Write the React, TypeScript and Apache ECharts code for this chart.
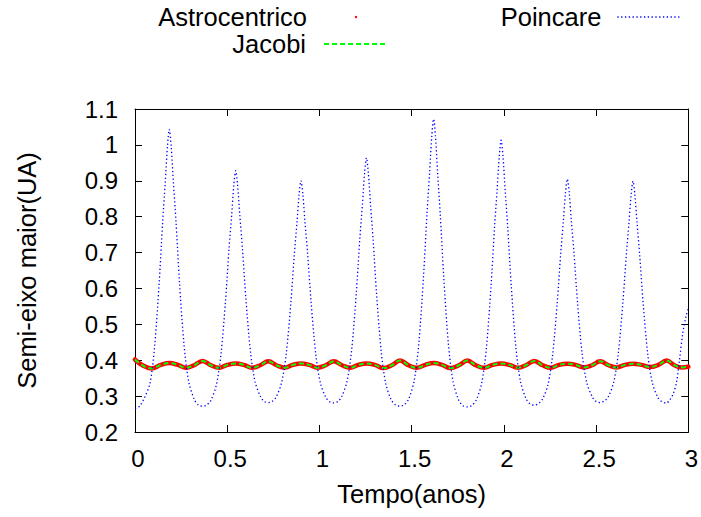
import React, { useEffect, useRef } from "react";
import * as echarts from "echarts";

const FONT = "'Liberation Sans', Arial, Helvetica, sans-serif";

const seriesNames = ["Astrocentrico", "Jacobi", "Poincare"];
const xTickValues = { min: 0, max: 3, step: 0.5 };
const yTickValues = { min: 0.2, max: 1.1, step: 0.1 };

// Astrocentrico (time in years, semi-major axis in AU)
const astroData: [number, number][] = [
  [0.000, 0.402], [0.040, 0.386], [0.089, 0.377], [0.140, 0.387], [0.186, 0.392], [0.232, 0.387], [0.276, 0.379], [0.321, 0.386], [0.366, 0.398],
  [0.411, 0.386], [0.456, 0.379], [0.501, 0.387], [0.546, 0.391], [0.590, 0.387], [0.634, 0.379], [0.679, 0.386], [0.723, 0.397],
  [0.767, 0.386], [0.811, 0.379], [0.856, 0.387], [0.900, 0.391], [0.945, 0.387], [0.989, 0.379], [1.034, 0.386], [1.078, 0.397],
  [1.122, 0.386], [1.166, 0.379], [1.211, 0.387], [1.255, 0.391], [1.301, 0.387], [1.346, 0.378], [1.392, 0.386], [1.437, 0.399],
  [1.483, 0.386], [1.528, 0.379], [1.574, 0.387], [1.619, 0.392], [1.665, 0.387], [1.710, 0.378], [1.756, 0.386], [1.802, 0.399],
  [1.848, 0.386], [1.893, 0.379], [1.939, 0.387], [1.985, 0.391], [2.030, 0.387], [2.075, 0.379], [2.120, 0.386], [2.165, 0.398],
  [2.210, 0.386], [2.254, 0.379], [2.299, 0.387], [2.344, 0.390], [2.389, 0.387], [2.433, 0.380], [2.478, 0.386], [2.522, 0.397],
  [2.567, 0.386], [2.611, 0.380], [2.656, 0.387], [2.700, 0.390], [2.746, 0.387], [2.791, 0.381], [2.837, 0.387], [2.882, 0.399],
  [2.925, 0.386], [2.965, 0.380], [3.000, 0.382],
];

// Jacobi (overlaps Astrocentrico in the picture)
const jacobiData: [number, number][] = [
  [0.000, 0.402], [0.040, 0.386], [0.089, 0.377], [0.140, 0.387], [0.186, 0.392], [0.232, 0.387], [0.276, 0.379], [0.321, 0.386], [0.366, 0.398],
  [0.411, 0.386], [0.456, 0.379], [0.501, 0.387], [0.546, 0.391], [0.590, 0.387], [0.634, 0.379], [0.679, 0.386], [0.723, 0.397],
  [0.767, 0.386], [0.811, 0.379], [0.856, 0.387], [0.900, 0.391], [0.945, 0.387], [0.989, 0.379], [1.034, 0.386], [1.078, 0.397],
  [1.122, 0.386], [1.166, 0.379], [1.211, 0.387], [1.255, 0.391], [1.301, 0.387], [1.346, 0.378], [1.392, 0.386], [1.437, 0.399],
  [1.483, 0.386], [1.528, 0.379], [1.574, 0.387], [1.619, 0.392], [1.665, 0.387], [1.710, 0.378], [1.756, 0.386], [1.802, 0.399],
  [1.848, 0.386], [1.893, 0.379], [1.939, 0.387], [1.985, 0.391], [2.030, 0.387], [2.075, 0.379], [2.120, 0.386], [2.165, 0.398],
  [2.210, 0.386], [2.254, 0.379], [2.299, 0.387], [2.344, 0.390], [2.389, 0.387], [2.433, 0.380], [2.478, 0.386], [2.522, 0.397],
  [2.567, 0.386], [2.611, 0.380], [2.656, 0.387], [2.700, 0.390], [2.746, 0.387], [2.791, 0.381], [2.837, 0.387], [2.882, 0.399],
  [2.925, 0.386], [2.965, 0.380], [3.000, 0.382],
];

// Poincare
const poincareData: [number, number][] = [
  [0.000, 0.265], [0.025, 0.272], [0.051, 0.295], [0.081, 0.335], [0.106, 0.436], [0.131, 0.615], [0.150, 0.786], [0.164, 0.895], [0.176, 0.996], [0.186, 1.043],
  [0.196, 0.997], [0.208, 0.897], [0.222, 0.789], [0.241, 0.619], [0.266, 0.442], [0.291, 0.341], [0.321, 0.291], [0.344, 0.275], [0.366, 0.272], [0.388, 0.275],
  [0.411, 0.288], [0.441, 0.331], [0.466, 0.416], [0.491, 0.567], [0.510, 0.712], [0.524, 0.803], [0.536, 0.889], [0.546, 0.928],
  [0.556, 0.889], [0.568, 0.805], [0.582, 0.715], [0.601, 0.573], [0.626, 0.424], [0.651, 0.340], [0.681, 0.298], [0.701, 0.285], [0.723, 0.282], [0.745, 0.286],
  [0.765, 0.297], [0.795, 0.338], [0.820, 0.418], [0.845, 0.560], [0.864, 0.696], [0.878, 0.783], [0.890, 0.863], [0.900, 0.900],
  [0.910, 0.863], [0.922, 0.782], [0.936, 0.696], [0.955, 0.560], [0.980, 0.417], [1.005, 0.337], [1.035, 0.296], [1.056, 0.284], [1.078, 0.281], [1.100, 0.285],
  [1.120, 0.298], [1.150, 0.342], [1.175, 0.431], [1.200, 0.588], [1.219, 0.739], [1.233, 0.834], [1.245, 0.923], [1.255, 0.964],
  [1.265, 0.922], [1.277, 0.833], [1.291, 0.736], [1.310, 0.583], [1.335, 0.424], [1.360, 0.334], [1.390, 0.289], [1.414, 0.275], [1.437, 0.272], [1.460, 0.276],
  [1.484, 0.292], [1.514, 0.344], [1.539, 0.448], [1.564, 0.632], [1.583, 0.808], [1.597, 0.920], [1.609, 1.024], [1.619, 1.072],
  [1.629, 1.024], [1.641, 0.920], [1.655, 0.807], [1.674, 0.631], [1.699, 0.446], [1.724, 0.342], [1.754, 0.290], [1.778, 0.273], [1.802, 0.270], [1.826, 0.274],
  [1.850, 0.289], [1.880, 0.337], [1.905, 0.433], [1.930, 0.604], [1.949, 0.768], [1.963, 0.872], [1.975, 0.968], [1.985, 1.013],
  [1.995, 0.969], [2.007, 0.873], [2.021, 0.769], [2.040, 0.607], [2.065, 0.437], [2.090, 0.341], [2.120, 0.293], [2.142, 0.278], [2.165, 0.275], [2.187, 0.279],
  [2.209, 0.291], [2.239, 0.332], [2.264, 0.414], [2.289, 0.559], [2.308, 0.697], [2.322, 0.785], [2.334, 0.867], [2.344, 0.905],
  [2.354, 0.868], [2.366, 0.787], [2.380, 0.699], [2.399, 0.562], [2.424, 0.419], [2.449, 0.338], [2.479, 0.298], [2.500, 0.285], [2.522, 0.282], [2.543, 0.286],
  [2.565, 0.297], [2.595, 0.338], [2.620, 0.418], [2.645, 0.560], [2.664, 0.695], [2.678, 0.782], [2.690, 0.862], [2.700, 0.899],
  [2.710, 0.862], [2.722, 0.782], [2.736, 0.695], [2.755, 0.559], [2.780, 0.417], [2.805, 0.337], [2.835, 0.296], [2.858, 0.284], [2.882, 0.281], [2.900, 0.290],
  [2.917, 0.305], [2.935, 0.336], [2.952, 0.400], [2.970, 0.476], [2.987, 0.521], [3.000, 0.545],
];

const axisLabelStyle = { fontSize: 24, color: "#000", fontFamily: FONT };
const titleFontSize = 25.5;

function makeLegend(name: string, right: number, top: number, textPad: number, isPoint: boolean) {
  return {
    data: [name],
    right,
    top,
    padding: 0,
    align: "right",
    orient: "horizontal",
    selectedMode: false,
    itemWidth: 62,
    itemHeight: isPoint ? 3 : 10,
    textStyle: { fontSize: titleFontSize, color: "#000", fontFamily: FONT, padding: [0, textPad, 0, 0] },
    lineStyle: isPoint ? { width: 0, opacity: 0 } : { width: name === "Poincare" ? 1.3 : 2 },
    itemStyle: isPoint ? {} : { opacity: 0 },
  };
}

export default function App() {
  const ref = useRef<HTMLDivElement>(null);
  useEffect(() => {
    if (!ref.current) return;
    const chart = echarts.init(ref.current, undefined, { renderer: "svg" });
    const option = {
      animation: false,
      backgroundColor: "#ffffff",
      textStyle: { fontFamily: FONT },
      grid: { left: 135, right: 12, top: 109, bottom: 85, containLabel: false },
      legend: [
        makeLegend(seriesNames[0], 314, 4, 13, true),
        makeLegend(seriesNames[1], 314, 31, 13, false),
        makeLegend(seriesNames[2], 21, 4, 11, false),
      ],
      xAxis: [
        {
          type: "value",
          min: xTickValues.min,
          max: xTickValues.max,
          interval: xTickValues.step,
          position: "bottom",
          axisLine: { show: true, onZero: false, lineStyle: { color: "#000", width: 1 } },
          axisTick: { show: true, inside: true, length: 7, lineStyle: { color: "#000", width: 1 } },
          axisLabel: { ...axisLabelStyle, margin: 14, padding: [0, 0, 0, 6] },
          splitLine: { show: false },
          name: "Tempo(anos)",
          nameLocation: "middle",
          nameGap: 49,
          nameTextStyle: { fontSize: titleFontSize, color: "#000", fontFamily: FONT },
        },
        {
          type: "value",
          min: xTickValues.min,
          max: xTickValues.max,
          interval: xTickValues.step,
          position: "top",
          axisLine: { show: true, onZero: false, lineStyle: { color: "#000", width: 1 } },
          axisTick: { show: true, inside: true, length: 7, lineStyle: { color: "#000", width: 1 } },
          axisLabel: { show: false },
          splitLine: { show: false },
        },
      ],
      yAxis: [
        {
          type: "value",
          min: yTickValues.min,
          max: yTickValues.max,
          interval: yTickValues.step,
          position: "left",
          axisLine: { show: true, onZero: false, lineStyle: { color: "#000", width: 1 } },
          axisTick: { show: true, inside: true, length: 7, lineStyle: { color: "#000", width: 1 } },
          axisLabel: { ...axisLabelStyle, margin: 17 },
          splitLine: { show: false },
          name: "Semi-eixo maior(UA)",
          nameLocation: "middle",
          nameRotate: 90,
          nameGap: 95,
          nameTextStyle: { fontSize: titleFontSize, color: "#000", fontFamily: FONT },
        },
        {
          type: "value",
          min: yTickValues.min,
          max: yTickValues.max,
          interval: yTickValues.step,
          position: "right",
          axisLine: { show: true, onZero: false, lineStyle: { color: "#000", width: 1 } },
          axisTick: { show: true, inside: true, length: 7, lineStyle: { color: "#000", width: 1 } },
          axisLabel: { show: false },
          splitLine: { show: false },
        },
      ],
      series: [
        {
          name: seriesNames[0],
          type: "line",
          data: astroData,
          symbol: "none",
          smooth: 0.4,
          lineStyle: { color: "#ff0000", width: 4.5, join: "round", cap: "round" },
          itemStyle: { color: "#ff0000" },
          emphasis: { disabled: true },
          z: 2,
        },
        {
          name: seriesNames[1],
          type: "line",
          data: jacobiData,
          symbol: "none",
          smooth: 0.4,
          lineStyle: { color: "#00ff00", width: 2, type: [5, 3] },
          itemStyle: { color: "#00ff00" },
          emphasis: { disabled: true },
          z: 3,
        },
        {
          name: seriesNames[2],
          type: "line",
          data: poincareData,
          symbol: "none",
          smooth: 0.3,
          lineStyle: { color: "#0000ff", width: 1.3, type: [1.3, 2.5] },
          itemStyle: { color: "#0000ff" },
          emphasis: { disabled: true },
          z: 4,
        },
      ],
    };
    chart.setOption(option as any);
    return () => chart.dispose();
  }, []);
  return (
    <div
      ref={ref}
      style={{ position: "absolute", left: 0, top: 0, width: 701, height: 517, background: "#fff" }}
    />
  );
}
